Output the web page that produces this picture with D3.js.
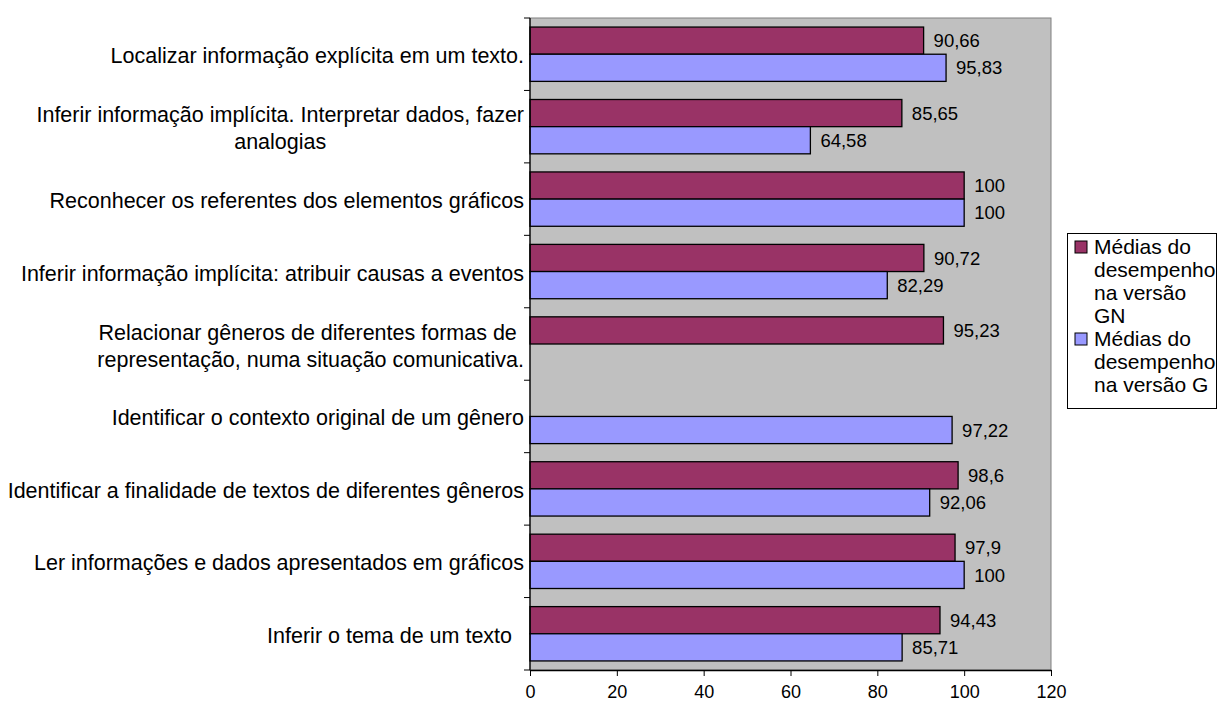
<!DOCTYPE html>
<html>
<head>
<meta charset="utf-8">
<script src="https://cdn.jsdelivr.net/npm/d3@7"></script>
<style>
  html, body { margin: 0; padding: 0; background: #ffffff; }
  svg { display: block; font-family: "Liberation Sans", Arial, sans-serif; }
  text { white-space: pre; }
</style>
</head>
<body>
<svg id="chart" width="1219" height="704"></svg>
<script>
// ---- data ----
const categories = [
  "Localizar informação explícita em um texto.",
  "Inferir informação implícita. Interpretar dados, fazer\nanalogias",
  "Reconhecer os referentes dos elementos gráficos",
  "Inferir informação implícita: atribuir causas a eventos",
  "Relacionar gêneros de diferentes formas de \nrepresentação, numa situação comunicativa.",
  "Identificar o contexto original de um gênero",
  "Identificar a finalidade de textos de diferentes gêneros",
  "Ler informações e dados apresentados em gráficos",
  "Inferir o tema de um texto  "
];
const seriesGN = [90.66, 85.65, 100, 90.72, 95.23, null, 98.6, 97.9, 94.43];
const seriesG  = [95.83, 64.58, 100, 82.29, null, 97.22, 92.06, 100, 85.71];
const seriesKeys = ["GN", "G"];
const seriesNames = ["Médias do\ndesempenho\nna versão\nGN", "Médias do\ndesempenho\nna versão G"];
const xTicks = [0, 20, 40, 60, 80, 100, 120];

// ---- styles ----
const colors = { GN: "#993366", G: "#9999FF" };
const plot = { left: 530, right: 1051, top: 18, bottom: 670 };

const svg = d3.select("#chart");

const x = d3.scaleLinear().domain([0, 120]).range([plot.left, plot.right]);
const y = d3.scaleBand().domain(d3.range(categories.length))
  .range([plot.top, plot.bottom]).paddingInner(0.25).paddingOuter(0.125);
const ySub = d3.scaleBand().domain(seriesKeys).range([0, y.bandwidth()]);

const rows = categories.map((c, i) => ({ i, label: c, GN: seriesGN[i], G: seriesG[i] }));

// plot background
svg.append("rect")
  .attr("x", plot.left).attr("y", plot.top)
  .attr("width", plot.right - plot.left).attr("height", plot.bottom - plot.top)
  .attr("fill", "#C0C0C0").attr("stroke", "#808080").attr("stroke-width", 1);

// bars
const groups = svg.append("g").selectAll("g").data(rows).join("g")
  .attr("transform", d => `translate(0,${y(d.i)})`);

seriesKeys.forEach(k => {
  const g = groups.filter(d => d[k] != null);
  g.append("rect")
    .attr("x", x(0))
    .attr("y", ySub(k))
    .attr("width", d => x(d[k]) - x(0))
    .attr("height", ySub.bandwidth())
    .attr("fill", colors[k])
    .attr("stroke", "#000").attr("stroke-width", 1.3);
  g.append("text")
    .attr("x", d => x(d[k]) + 10)
    .attr("y", ySub(k) + ySub.bandwidth() / 2)
    .attr("dy", "0.36em")
    .attr("font-size", 18.5)
    .attr("fill", "#000")
    .text(d => String(d[k]).replace(".", ","));
});

// y axis line and ticks at band boundaries
const step = y.step();
const yAxis = svg.append("g");
yAxis.append("line")
  .attr("x1", plot.left).attr("x2", plot.left)
  .attr("y1", plot.top).attr("y2", plot.bottom)
  .attr("stroke", "#000").attr("stroke-width", 1.3);
yAxis.selectAll("line.tick").data(d3.range(categories.length + 1)).join("line")
  .attr("class", "tick")
  .attr("x1", plot.left - 6).attr("x2", plot.left)
  .attr("y1", i => plot.top + i * step).attr("y2", i => plot.top + i * step)
  .attr("stroke", "#000").attr("stroke-width", 1);

// category labels (multi-line, centered block right-aligned)
const labelRight = 524;
const lineH = 27;
rows.forEach(d => {
  const lines = d.label.split("\n");
  const cy = y(d.i) + y.bandwidth() / 2;
  const t = svg.append("text").attr("font-size", 21.5).attr("fill", "#000")
    .attr("text-anchor", "middle");
  const spans = lines.map((ln, j) =>
    t.append("tspan").attr("y", cy + (j - (lines.length - 1) / 2) * lineH).attr("dy", "0.42em").text(ln));
  const widths = spans.map(s => s.node().getComputedTextLength());
  const maxW = d3.max(widths);
  spans.forEach(s => s.attr("x", labelRight - maxW / 2));
});

// x axis
const xAxisG = svg.append("g").attr("transform", `translate(0,${plot.bottom})`)
  .call(d3.axisBottom(x).tickValues(xTicks).tickSize(6).tickSizeOuter(0).tickPadding(9));
xAxisG.select(".domain").attr("stroke", "#000").attr("stroke-width", 1.3);
xAxisG.selectAll(".tick line").attr("stroke", "#000");
xAxisG.selectAll(".tick text")
  .attr("font-family", "Liberation Sans, Arial, sans-serif")
  .attr("font-size", 18).attr("fill", "#000");

// legend
const legend = svg.append("g");
legend.append("rect")
  .attr("x", 1067.5).attr("y", 233.5).attr("width", 149).attr("height", 175)
  .attr("fill", "#fff").attr("stroke", "#000").attr("stroke-width", 1);
let lineIdx = 0;
const legLine = 23, legBase = 254;
seriesKeys.forEach((k, si) => {
  const lines = seriesNames[si].split("\n");
  const firstBase = legBase + lineIdx * legLine;
  legend.append("rect")
    .attr("x", 1075).attr("y", firstBase - 13).attr("width", 12).attr("height", 12)
    .attr("fill", colors[k]).attr("stroke", "#000").attr("stroke-width", 1);
  const t = legend.append("text").attr("font-size", 21).attr("fill", "#000");
  lines.forEach((ln, j) => {
    t.append("tspan").attr("x", 1094).attr("y", legBase + (lineIdx + j) * legLine).text(ln);
  });
  lineIdx += lines.length;
});
</script>
</body>
</html>
